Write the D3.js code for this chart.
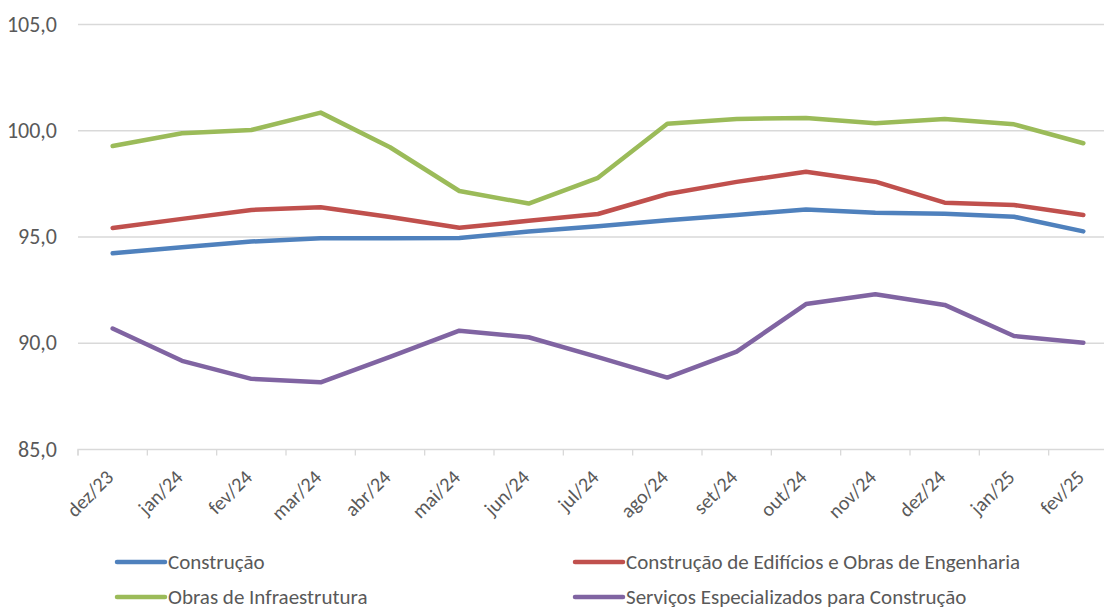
<!DOCTYPE html>
<html><head><meta charset="utf-8">
<script src="https://cdn.jsdelivr.net/npm/d3@7"></script>
<style>
html,body{margin:0;padding:0;background:#fff;}
svg text{font-family:Carlito,"Liberation Sans Narrow","Open Sans",sans-serif;fill:#595959;}
</style></head>
<body><svg id="c" width="1104" height="610"></svg>
<script>
const categories = ["dez/23","jan/24","fev/24","mar/24","abr/24","mai/24","jun/24","jul/24","ago/24","set/24","out/24","nov/24","dez/24","jan/25","fev/25"];
const construcao = [94.21,94.49,94.76,94.92,94.92,94.93,95.23,95.48,95.77,96.01,96.27,96.12,96.07,95.93,95.24];
const edificios  = [95.40,95.83,96.25,96.38,95.92,95.41,95.74,96.06,97.00,97.57,98.05,97.58,96.59,96.48,96.01];
const infra      = [99.26,99.86,100.01,100.83,99.20,97.14,96.55,97.76,100.31,100.53,100.58,100.33,100.53,100.28,99.39];
const servicos   = [90.67,89.15,88.30,88.14,89.33,90.57,90.26,89.32,88.36,89.58,91.82,92.28,91.78,90.32,90.00];
const yTicks = [85,90,95,100,105];
const seriesNames = ["Construção","Construção de Edifícios e Obras de Engenharia","Obras de Infraestrutura","Serviços Especializados para Construção"];
const colors = ["#4F81BD","#C0504D","#9BBB59","#8064A2"];
const seriesValues = [construcao, edificios, infra, servicos];

(function(){
const svg = d3.select("#c");
const pL = 78, pR = 1118, pT = 24, pB = 449;
const x = d3.scaleBand().domain(categories).range([pL, pR]);
const y = d3.scaleLinear().domain([85,105]).range([pB, pT]);
const fmt = v => d3.format(".1f")(v).replace(".", ",");

svg.append("g").selectAll("line").data(yTicks.filter(t=>t!==85)).join("line")
  .attr("x1", pL).attr("x2", 1104).attr("y1", d=>y(d)+0.5).attr("y2", d=>y(d)+0.5)
  .attr("stroke", "#D9D9D9").attr("stroke-width", 1.3);

svg.append("g").selectAll("text").data(yTicks).join("text")
  .attr("x", 57).attr("y", d=>y(d)).attr("dy","0.35em").attr("text-anchor","end")
  .style("font-size","22px").text(fmt);

const xAxis = d3.axisBottom(x).tickSize(6).tickFormat(d=>d);
const gx = svg.append("g").attr("transform", `translate(0,${pB+0.5})`).call(xAxis);
gx.select(".domain").attr("stroke","#D9D9D9").attr("stroke-width",1.3).attr("d", `M${pL},6V0H1104`);
gx.selectAll(".tick line").attr("stroke","#D9D9D9").attr("stroke-width",1.3)
  .attr("transform", `translate(${-x.bandwidth()/2},0)`);
gx.selectAll(".tick text").attr("text-anchor","end").attr("y",0).attr("dy",0)
  .attr("transform","translate(2,29) rotate(-45)")
  .style("font-size","20px").style("fill","#595959");

const line = d3.line().x((d,i)=>x(categories[i])+x.bandwidth()/2).y(d=>y(d));
svg.append("g").selectAll("path").data(seriesValues).join("path")
  .attr("d", line).attr("fill","none").attr("stroke",(d,i)=>colors[i])
  .attr("stroke-width",4.5).attr("stroke-linejoin","round").attr("stroke-linecap","round");

const legPos = [[117,562],[575,562],[117,597],[575,597]];
const lg = svg.append("g").selectAll("g").data(seriesNames).join("g")
  .attr("transform",(d,i)=>`translate(${legPos[i][0]},${legPos[i][1]})`);
lg.append("line").attr("x1",0).attr("x2",48).attr("stroke",(d,i)=>colors[i])
  .attr("stroke-width",4.5).attr("stroke-linecap","round");
lg.append("text").attr("x",51).attr("dy","0.35em").style("font-size","21px").text(d=>d);
})();
</script></body></html>
